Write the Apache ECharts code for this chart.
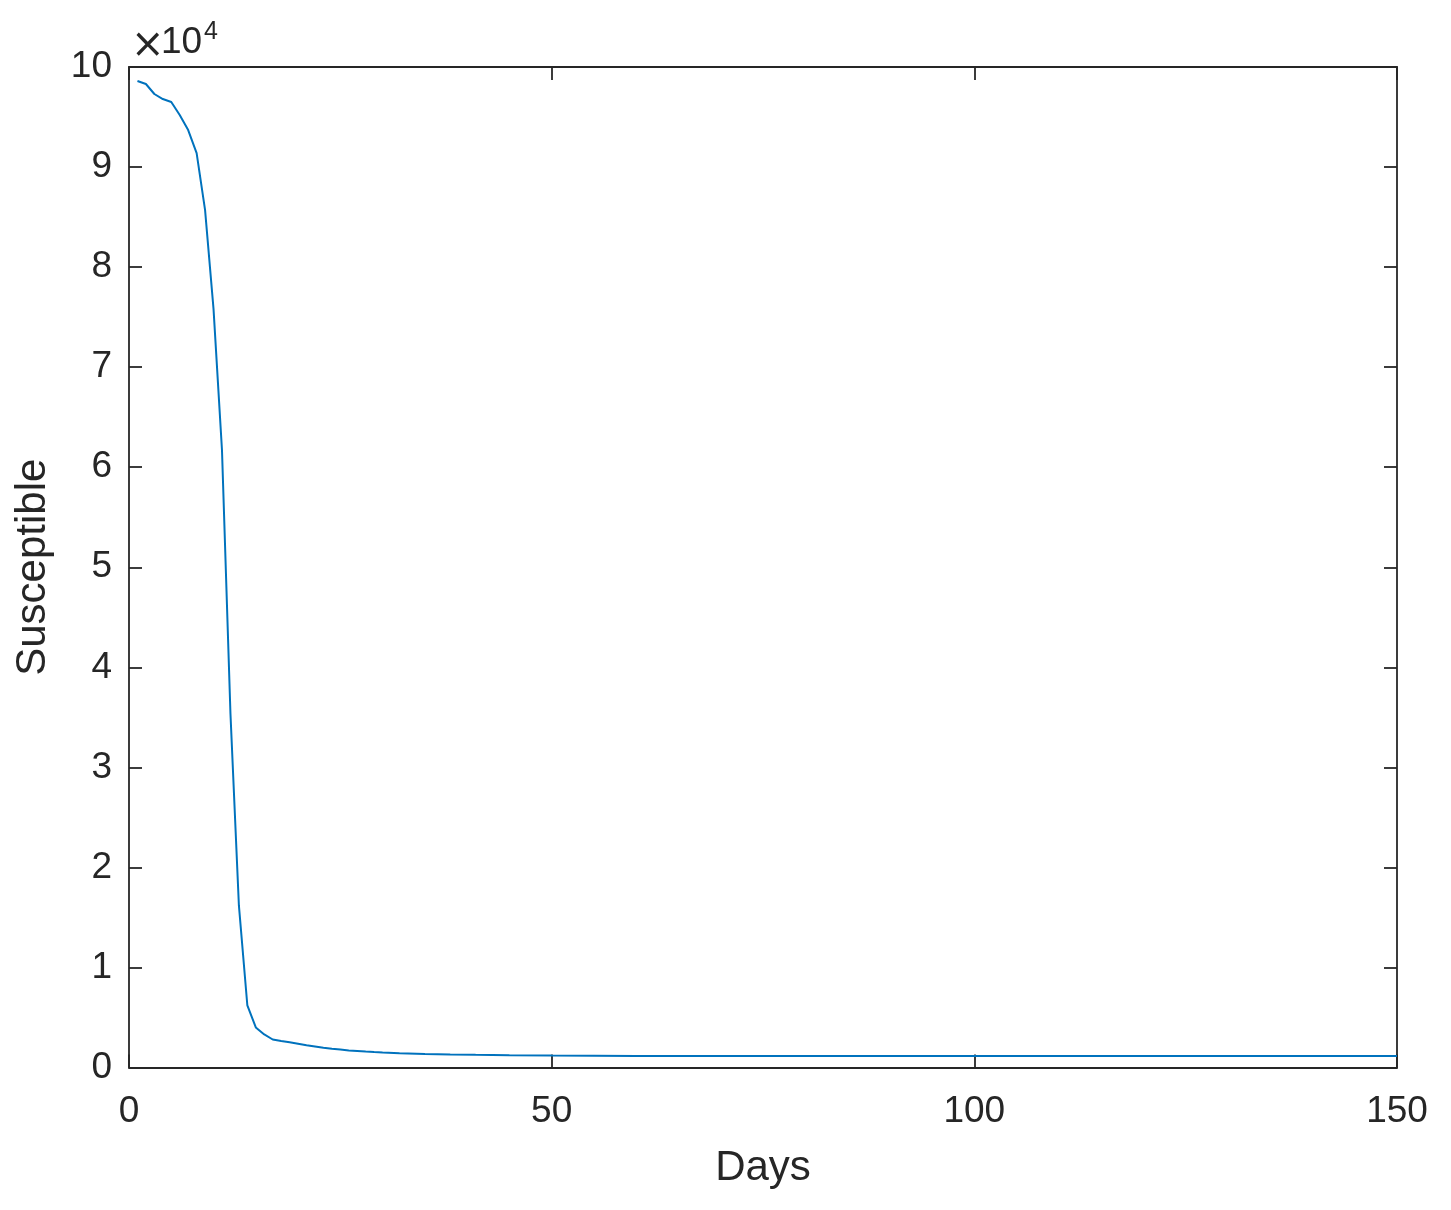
<!DOCTYPE html>
<html>
<head>
<meta charset="utf-8">
<script src="https://cdn.jsdelivr.net/npm/echarts@6/dist/echarts.min.js"></script>
<style>
  html, body { margin: 0; padding: 0; background: #ffffff; }
  #chart { width: 1451px; height: 1210px; }
</style>
</head>
<body>
<div id="chart"></div>
<script>
// Days (x) and susceptible population (y)
const days = [1, 2, 3, 4, 5, 6, 7, 8, 9, 10, 11, 12, 13, 14, 15, 16, 17, 18, 19, 20,
  21, 22, 23, 24, 25, 26, 27, 28, 29, 30, 32, 35, 38, 41, 45, 50, 60, 70, 80, 90,
  100, 110, 120, 130, 140, 150];
const susceptible = [98600, 98300, 97300, 96800, 96500, 95200, 93700, 91400, 85700, 75800,
  61700, 35400, 16200, 6200, 4000, 3300, 2800, 2650, 2520, 2380,
  2230, 2100, 1970, 1870, 1790, 1710, 1650, 1590, 1540, 1500,
  1430, 1360, 1310, 1270, 1230, 1190, 1150, 1140, 1140, 1140,
  1140, 1140, 1140, 1140, 1140, 1140];
const xTicks = [0, 50, 100, 150];
const yTickLabels = ['0', '1', '2', '3', '4', '5', '6', '7', '8', '9', '10'];

const seriesData = days.map((d, i) => [d, susceptible[i]]);

const axisColor = '#262626';
const font = 'Liberation Sans, Arial, Helvetica, sans-serif';

const chart = echarts.init(document.getElementById('chart'), null, { renderer: 'canvas' });

const baseAxisLine = { show: true, onZero: false, lineStyle: { color: axisColor, width: 1.8 } };
const baseTick = { show: true, inside: true, length: 13, lineStyle: { color: axisColor, width: 1.8 } };

chart.setOption({
  animation: false,
  backgroundColor: '#ffffff',
  grid: { left: 129, right: 54, top: 67, bottom: 142.5, containLabel: false },
  xAxis: [
    {
      type: 'value', min: 0, max: 150, interval: 50, position: 'bottom',
      axisLine: baseAxisLine, axisTick: baseTick,
      splitLine: { show: false },
      axisLabel: {
        color: axisColor, fontSize: 37, fontFamily: font, margin: 26,
        formatter: v => (xTicks.indexOf(v) >= 0 ? String(v) : '')
      },
      name: 'Days', nameLocation: 'middle', nameGap: 80,
      nameTextStyle: { color: axisColor, fontSize: 42, fontFamily: font }
    },
    {
      type: 'value', min: 0, max: 150, interval: 50, position: 'top',
      axisLine: baseAxisLine, axisTick: baseTick,
      splitLine: { show: false }, axisLabel: { show: false }
    }
  ],
  yAxis: [
    {
      type: 'value', min: 0, max: 100000, interval: 10000, position: 'left',
      axisLine: baseAxisLine, axisTick: baseTick,
      splitLine: { show: false },
      axisLabel: {
        color: axisColor, fontSize: 37, fontFamily: font, margin: 17,
        formatter: v => yTickLabels[Math.round(v / 10000)]
      },
      name: 'Susceptible', nameLocation: 'middle', nameGap: 75,
      nameTextStyle: { color: axisColor, fontSize: 42, fontFamily: font }
    },
    {
      type: 'value', min: 0, max: 100000, interval: 10000, position: 'right',
      axisLine: baseAxisLine, axisTick: baseTick,
      splitLine: { show: false }, axisLabel: { show: false }
    }
  ],
  series: [
    {
      type: 'line',
      xAxisIndex: 0, yAxisIndex: 0,
      data: seriesData,
      showSymbol: false,
      smooth: false,
      lineStyle: { color: '#0072BD', width: 2 },
      itemStyle: { color: '#0072BD' },
      z: 3
    }
  ],
  graphic: [
    {
      type: 'text', x: 131, y: 47,
      style: { text: '×', fontSize: 40, fontFamily: 'DejaVu Sans, Liberation Sans, sans-serif', fill: axisColor, verticalAlign: 'middle', align: 'left' }
    },
    {
      type: 'text', x: 161, y: 43,
      style: { text: '10', fontSize: 37, fontFamily: font, fill: axisColor, verticalAlign: 'middle', align: 'left' }
    },
    {
      type: 'text', x: 204, y: 32,
      style: { text: '4', fontSize: 25, fontFamily: font, fill: axisColor, verticalAlign: 'middle', align: 'left' }
    }
  ]
});
</script>
</body>
</html>
